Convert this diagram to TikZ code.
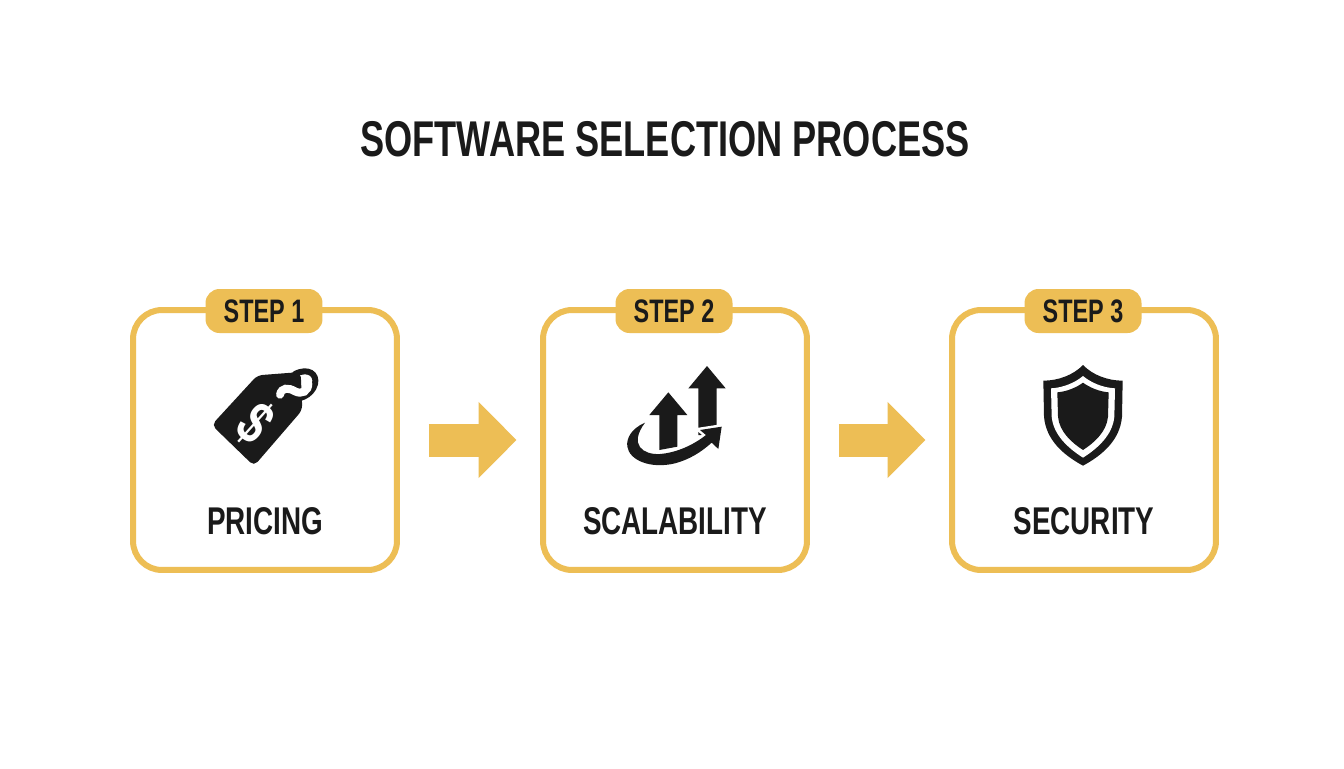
\documentclass[tikz,border=0pt]{standalone}
\usepackage{fontspec}
\setmainfont{Liberation Sans}[FakeStretch=0.72]
\usetikzlibrary{arrows.meta}
\definecolor{gold}{HTML}{EDBE55}
\definecolor{ink}{HTML}{1A1A1A}
\tikzset{
    stepcard/.style={draw=gold,line width=0.12cm,rounded corners=0.58cm,fill=white,minimum width=5.28cm,minimum height=5.2cm},
    badge/.style={fill=gold,rounded corners=0.28cm,minimum width=2.34cm,minimum height=0.88cm,text=ink,font=\bfseries\fontsize{18.5}{18.5}\selectfont,inner sep=0pt},
    caption/.style={text=ink,font=\bfseries\fontsize{22}{22}\selectfont,inner sep=0pt},
    flow/.style={draw=gold,line width=0.66cm,-{Triangle[length=0.76cm,width=1.48cm]},shorten <=0.58cm,shorten >=0.47cm},
    icon/.style={shift={#1},x=0.00667cm,y=-0.00667cm}
}
\begin{document}
\begin{tikzpicture}[x=0.02cm,y=-0.02cm]
    \useasboundingbox[fill=white] (0,0) rectangle (1344,768);
    \node[text=ink,font=\bfseries\fontsize{28.6}{28.6}\selectfont,inner sep=0pt] (title) at (665,139) {SOFTWARE SELECTION PROCESS};
    \foreach \n/\x/\word in {1/265/PRICING,2/675/SCALABILITY,3/1084/SECURITY}{
        \node[stepcard] (card\n) at (\x,440) {};
        \node[badge] (badge\n) at (\x-1,311) {STEP \n};
        \node[caption] (label\n) at (\x,521) {\word};
    }
    \foreach \a/\b in {1/2,2/3}{
        \draw[flow] (card\a) -- (card\b);
    }
    % price tag
    \begin{scope}[icon={(200,360)}]
        \fill[ink,rounded corners=3pt] (35,195) -- (172,46) -- (302,36) -- (307,150) -- (162,318) -- cycle;
        \draw[ink,line width=0.12cm,line cap=round] (285,42) .. controls (325,22) and (352,42) .. (345,72) .. controls (335,108) and (295,122) .. (262,116);
        \draw[white,line width=0.16cm,line cap=round] (240,104) .. controls (245,82) and (265,82) .. (285,94) .. controls (305,104) and (325,95) .. (325,70);
        \node[text=white,rotate=-42,font=\bfseries\fontsize{35}{35}\selectfont,inner sep=0pt] (dollar) at (165,190) {\$};
    \end{scope}
    % growth arrows
    \begin{scope}[icon={(600,350)}]
        \fill[ink] (205,127) -- (262,195) -- (232,195) -- (232,290) -- (178,300) -- (178,195) -- (148,195) -- cycle;
        \fill[ink] (321,48) -- (377,115) -- (350,115) -- (350,255) -- (295,255) -- (295,115) -- (265,115) -- cycle;
        \fill[ink,preaction={draw=white,line width=0.1cm}] (135,218) .. controls (95,235) and (78,265) .. (82,290) .. controls (88,330) and (150,358) .. (225,340) .. controls (270,328) and (305,305) .. (335,278) -- (355,297) -- (365,230) -- (300,240) -- (318,255) .. controls (280,285) and (230,308) .. (180,312) .. controls (130,315) and (85,285) .. (135,218) -- cycle;
    \end{scope}
    % shield
    \begin{scope}[icon={(1020,350)}]
        \fill[ink] (189,45) .. controls (160,75) and (115,92) .. (70,92) -- (72,200) .. controls (78,270) and (130,315) .. (189,347) .. controls (248,315) and (300,270) .. (306,200) -- (308,92) .. controls (263,92) and (218,75) .. (189,45) -- cycle;
        \fill[white] (189,78) .. controls (165,98) and (130,113) .. (93,115) -- (95,200) .. controls (100,255) and (145,295) .. (189,323) .. controls (233,295) and (278,255) .. (283,200) -- (285,115) .. controls (248,113) and (213,98) .. (189,78) -- cycle;
        \fill[ink] (189,98) .. controls (170,112) and (140,125) .. (112,127) -- (114,200) .. controls (118,245) and (155,278) .. (189,300) .. controls (223,278) and (260,245) .. (264,200) -- (266,127) .. controls (238,125) and (208,112) .. (189,98) -- cycle;
    \end{scope}
\end{tikzpicture}
\end{document}
